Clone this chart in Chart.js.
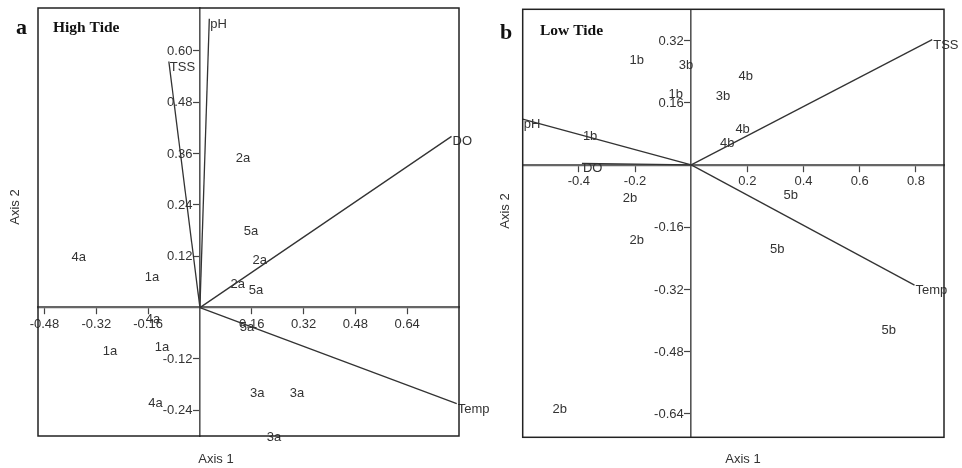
<!DOCTYPE html>
<html>
<head>
<meta charset="utf-8">
<script src="https://cdn.jsdelivr.net/npm/chart.js@4.4.0/dist/chart.umd.min.js"></script>
<style>
  html, body { margin: 0; padding: 0; background: #fff; }
  #wrap { position: relative; width: 962px; height: 468px; }
  .pane { position: absolute; top: 0; height: 468px; }
  #paneA { left: 0; width: 500px; }
  #paneB { left: 481px; width: 481px; }
</style>
</head>
<body>
<div id="wrap">
  <div class="pane" id="paneA"><canvas id="chartA"></canvas></div>
  <div class="pane" id="paneB"><canvas id="chartB"></canvas></div>
</div>
<script>
// ---------- Panel a : High Tide ----------
const sitesA  = ['2a','5a','2a','2a','5a','5a','4a','1a','4a','1a','1a','4a','3a','3a','3a'];
const sitesAx = [0.133, 0.158, 0.185, 0.117, 0.173, 0.145, -0.374, -0.148, -0.145, -0.278, -0.117, -0.137, 0.177, 0.300, 0.229];
const sitesAy = [0.349, 0.179, 0.111, 0.053, 0.041, -0.047, 0.118, 0.071, -0.027, -0.102, -0.094, -0.225, -0.200, -0.200, -0.304];
const varsA   = ['pH','TSS','DO','Temp'];
const varsAx  = [0.029, -0.096, 0.777, 0.793];
const varsAy  = [0.675, 0.575, 0.400, -0.2245];
const xTicksA = [-0.48, -0.32, -0.16, 0.16, 0.32, 0.48, 0.64];
const yTicksA = [-0.24, -0.12, 0.12, 0.24, 0.36, 0.48, 0.60];

// ---------- Panel b : Low Tide ----------
const sitesB  = ['1b','3b','1b','3b','4b','4b','4b','1b','2b','2b','2b','5b','5b','5b'];
const sitesBx = [-0.194, -0.019, -0.055, 0.113, 0.194, 0.183, 0.128, -0.360, -0.218, -0.194, -0.468, 0.354, 0.306, 0.703];
const sitesBy = [0.268, 0.255, 0.180, 0.175, 0.227, 0.090, 0.055, 0.072, -0.086, -0.194, -0.629, -0.078, -0.216, -0.426];
const varsB   = ['pH','DO','TSS','Temp'];
const varsBx  = [-0.600, -0.389, 0.858, 0.795];
const varsBy  = [0.118, 0.004, 0.322, -0.309];
const xTicksB = [-0.4, -0.2, 0.2, 0.4, 0.6, 0.8];
const yTicksB = [-0.64, -0.48, -0.32, -0.16, 0.16, 0.32];

Chart.defaults.font.family = "'Liberation Sans', Arial, sans-serif";
Chart.defaults.font.size = 13;
Chart.defaults.color = '#333';

function makeConfig(p) {
  const datasets = [];
  // vectors
  p.vars.forEach((name, i) => {
    datasets.push({
      type: 'scatter',
      data: [{x: 0, y: 0}, {x: p.vx[i], y: p.vy[i]}],
      showLine: true,
      borderColor: '#333',
      borderWidth: 1.3,
      pointRadius: 0,
      pointHoverRadius: 0,
      vecLabel: name,
      clip: false
    });
  });
  // site scores (drawn as text)
  datasets.push({
    type: 'scatter',
    data: p.sx.map((x, i) => ({x: x, y: p.sy[i]})),
    pointRadius: 0,
    pointHoverRadius: 0,
    siteLabels: p.sites,
    clip: false
  });

  const zeroFit = (scale) => {
    if (scale.isHorizontal()) scale.height = 0; else scale.width = 0;
    scale.paddingLeft = scale.paddingRight = scale.paddingTop = scale.paddingBottom = 0;
  };

  const TICK = 6;

  const textPlugin = {
    id: 'texts',
    afterDatasetsDraw(chart) {
      const ctx = chart.ctx;
      ctx.save();
      ctx.fillStyle = '#333';
      ctx.font = "13px 'Liberation Sans', Arial, sans-serif";
      // y tick labels, left of the vertical axis
      const xs = chart.scales.x, ys = chart.scales.y;
      const axX = xs.getPixelForValue(0);
      ctx.textAlign = 'right';
      ctx.textBaseline = 'middle';
      ys.ticks.forEach(t => {
        ctx.fillText(Number(t.value).toFixed(2), axX - TICK - 1.5, ys.getPixelForValue(t.value) + 0.5);
      });
      chart.data.datasets.forEach((ds, di) => {
        const meta = chart.getDatasetMeta(di);
        if (ds.vecLabel) {
          const el = meta.data[1];
          ctx.textAlign = 'left';
          ctx.textBaseline = 'top';
          ctx.fillText(ds.vecLabel, el.x + 1, el.y - 1);
        }
        if (ds.siteLabels) {
          ctx.textAlign = 'center';
          ctx.textBaseline = 'middle';
          meta.data.forEach((el, i) => ctx.fillText(ds.siteLabels[i], el.x, el.y));
        }
      });
      ctx.restore();
    },
    afterDraw(chart) {
      const ctx = chart.ctx;
      const a = chart.chartArea;
      ctx.save();
      ctx.strokeStyle = '#222';
      ctx.lineWidth = 1.5;
      ctx.strokeRect(a.left, a.top, a.right - a.left, a.bottom - a.top);
      // panel letter & title
      ctx.fillStyle = '#111';
      ctx.textBaseline = 'alphabetic';
      ctx.textAlign = 'left';
      ctx.font = "bold 22px 'Liberation Serif', 'Times New Roman', serif";
      ctx.fillText(p.letter, p.letterX, p.letterY);
      ctx.font = "bold 15.5px 'Liberation Serif', 'Times New Roman', serif";
      ctx.fillText(p.title, p.titleX, p.titleY);
      // axis titles
      ctx.fillStyle = '#333';
      ctx.font = "13px 'Liberation Sans', Arial, sans-serif";
      ctx.textAlign = 'center';
      ctx.textBaseline = 'middle';
      ctx.fillText('Axis 1', p.ax1X, p.ax1Y);
      ctx.translate(p.ax2X, p.ax2Y);
      ctx.rotate(-Math.PI / 2);
      ctx.fillText('Axis 2', 0, 0);
      ctx.restore();
    }
  };

  return {
    type: 'scatter',
    data: { datasets },
    plugins: [textPlugin],
    options: {
      responsive: true,
      maintainAspectRatio: false,
      animation: false,
      events: [],
      layout: { autoPadding: false, padding: p.padding },
      plugins: { legend: { display: false }, tooltip: { enabled: false } },
      scales: {
        x: {
          type: 'linear',
          min: p.xMin, max: p.xMax,
          position: { y: 0 },
          afterBuildTicks: (s) => { s.ticks = p.xTicks.map(v => ({value: v})); },
          afterFit: zeroFit,
          grid: { drawOnChartArea: false, drawTicks: true, tickLength: TICK, color: '#444', tickWidth: 1.2 },
          border: { display: true, color: '#666', width: 2.2 },
          ticks: { autoSkip: false, maxRotation: 0, padding: 3, color: '#333',
                   callback: (v) => Number(v).toFixed(p.xDec) }
        },
        y: {
          type: 'linear',
          min: p.yMin, max: p.yMax,
          position: { x: 0 },
          afterBuildTicks: (s) => { s.ticks = p.yTicks.map(v => ({value: v})); },
          afterFit: zeroFit,
          grid: { drawOnChartArea: false, drawTicks: true, tickLength: TICK, color: '#444', tickWidth: 1.2 },
          border: { display: true, color: '#555', width: 1.6 },
          ticks: { display: false }
        }
      }
    }
  };
}

new Chart(document.getElementById('chartA'), makeConfig({
  vars: varsA, vx: varsAx, vy: varsAy,
  sites: sitesA, sx: sitesAx, sy: sitesAy,
  xTicks: xTicksA, yTicks: yTicksA, xDec: 2,
  xMin: -0.5, xMax: 0.8, yMin: -0.3, yMax: 0.7,
  padding: { left: 38, right: 41, top: 8, bottom: 32 },
  letter: 'a', letterX: 16, letterY: 34,
  title: 'High Tide', titleX: 53, titleY: 32,
  ax1X: 216, ax1Y: 459, ax2X: 15, ax2Y: 207
}));

new Chart(document.getElementById('chartB'), makeConfig({
  vars: varsB, vx: varsBx, vy: varsBy,
  sites: sitesB, sx: sitesBx, sy: sitesBy,
  xTicks: xTicksB, yTicks: yTicksB, xDec: 1,
  xMin: -0.6, xMax: 0.9, yMin: -0.7, yMax: 0.4,
  padding: { left: 41.7, right: 18, top: 9.3, bottom: 30.7 },
  letter: 'b', letterX: 19, letterY: 39,
  title: 'Low Tide', titleX: 59, titleY: 35,
  ax1X: 262, ax1Y: 459, ax2X: 24, ax2Y: 211
}));
</script>
</body>
</html>
